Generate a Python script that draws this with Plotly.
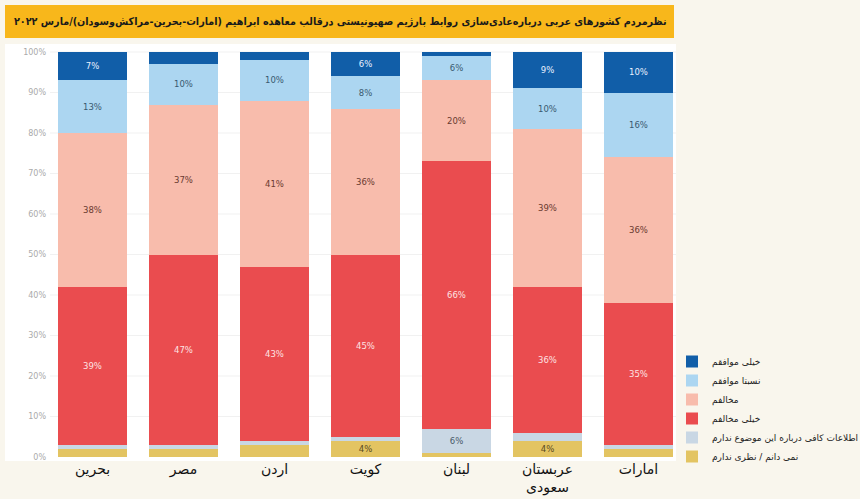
import plotly.graph_objects as go

countries = ["بحرین", "مصر", "اردن", "کویت", "لبنان", "عربستان<br>سعودی", "امارات"]

very_agree = [7, 3, 2, 6, 1, 9, 10]
somewhat_agree = [13, 10, 10, 8, 6, 10, 16]
disagree = [38, 37, 41, 36, 20, 39, 36]
strongly_disagree = [39, 47, 43, 45, 66, 36, 35]
no_info = [1, 1, 1, 1, 6, 2, 1]
dont_know = [2, 2, 3, 4, 1, 4, 2]

series_names = [
    "نمی دانم / نظری ندارم",
    "اطلاعات کافی درباره این موضوع ندارم",
    "خیلی مخالفم",
    "مخالفم",
    "نسبتا موافقم",
    "خیلی موافقم",
]
series_values = [dont_know, no_info, strongly_disagree, disagree, somewhat_agree, very_agree]
colors = ["#e3c462", "#c9d7e4", "#ea4c4f", "#f8bcac", "#acd6f1", "#115ea8"]
text_colors = ["#5a4a20", "#4a5a6a", "#fde2e2", "#6a3a30", "#3a5a70", "#e8f0ff"]

y_ticks = list(range(0, 101, 10))

title = "نظرمردم کشورهای عربی درباره‌عادی‌سازی روابط بارژیم صهیونیستی درقالب معاهده ابراهیم (امارات-بحرین-مراکش‌وسودان)/مارس ۲۰۲۲"

W, H = 860, 499
ML, MR, MT, MB = 47, 0, 50, 40
PW = W - ML - MR
PH = H - MT - MB
STEP = 91.0  # pixels per category


def px_x(px):
    return (px - ML) / PW


def px_y(py):
    return (H - MB - py) / PH


fig = go.Figure()
for name, vals, col, tcol in zip(series_names, series_values, colors, text_colors):
    fig.add_trace(go.Bar(
        x=countries, y=vals, name=name,
        marker=dict(color=col, line=dict(width=0)),
        text=[f"{v}%" if v >= 4 else "" for v in vals],
        textposition="inside", insidetextanchor="middle", textangle=0,
        textfont=dict(size=8.5, color=tcol, family="DejaVu Sans"),
        hoverinfo="skip",
    ))

shapes = [
    dict(type="rect", xref="paper", yref="paper", layer="below",
         x0=px_x(5), x1=px_x(676), y0=px_y(461), y1=px_y(44),
         fillcolor="#ffffff", line=dict(width=0)),
]
for t in y_ticks[1:]:
    shapes.append(dict(type="line", xref="paper", yref="y", layer="below",
                       x0=px_x(50), x1=px_x(676), y0=t, y1=t,
                       line=dict(color="#f1f1f1", width=1)))
shapes.append(dict(type="rect", xref="paper", yref="paper", layer="above",
                   x0=px_x(5), x1=px_x(674), y0=px_y(38), y1=px_y(5),
                   fillcolor="#f8b71b", line=dict(width=0)))

fig.update_layout(
    width=W, height=H,
    margin=dict(l=ML, r=MR, t=MT, b=MB, autoexpand=False),
    barmode="stack", bargap=0.24,
    paper_bgcolor="#f9f6ed", plot_bgcolor="rgba(0,0,0,0)",
    font=dict(family="DejaVu Sans"),
    showlegend=True,
    legend=dict(
        xref="container", yref="container",
        x=672 / W, y=1 - 409 / H, xanchor="left", yanchor="middle",
        bgcolor="rgba(0,0,0,0)", font=dict(size=9, color="#222"),
        itemwidth=30, tracegroupgap=0, traceorder="reversed",
    ),
    xaxis=dict(
        tickfont=dict(size=14, color="#111"), showgrid=False, zeroline=False,
        showline=False, ticks="", range=[-0.5, -0.5 + PW / STEP],
        ticklabelstandoff=0,
    ),
    yaxis=dict(
        range=[-0.5, 100.5], tickvals=y_ticks,
        ticktext=[f"{v}%" for v in y_ticks],
        tickfont=dict(size=8, color="#aaaaaa"), showgrid=False,
        zeroline=False, showline=False, ticks="",
    ),
    shapes=shapes,
    annotations=[
        dict(text=f"<b>{title}</b>", xref="paper", yref="paper",
             x=px_x(669), y=px_y(21), xanchor="right", yanchor="middle",
             showarrow=False,
             font=dict(size=10.7, color="#1a1a1a", family="DejaVu Sans Condensed, DejaVu Sans")),
    ],
)

fig.write_html("out.html")
